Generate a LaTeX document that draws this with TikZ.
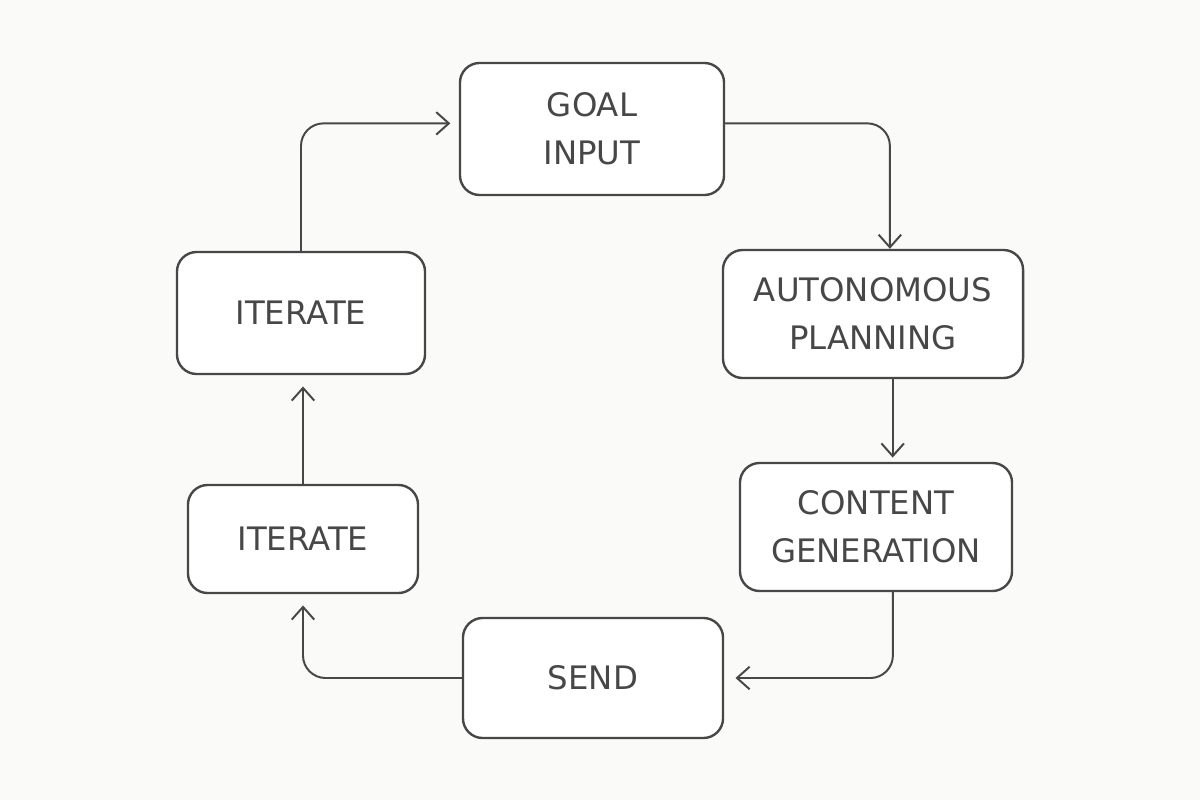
\documentclass[tikz,border=0pt]{standalone}
\usepackage{fontspec}
\setmainfont{DejaVu Sans}
\usepackage{xcolor}
\usetikzlibrary{arrows.meta,positioning,calc}

\definecolor{pencil}{HTML}{474747}
\definecolor{paper}{HTML}{FAFAF8}

\tikzset{
  stage/.style={draw=pencil, line width=1.7pt, rounded corners=14pt, fill=white,
    align=center, text=pencil, font=\fontsize{23}{34}\selectfont, inner sep=0pt},
  flow/.style={draw=pencil, line width=1.4pt, rounded corners=16pt,
    -{Straight Barb[length=9pt,width=16pt,line width=1.4pt]}}
}

\begin{document}
\begin{tikzpicture}[x=0.025cm,y=-0.025cm]
% Paper
\fill[paper] (0,0) rectangle (1200,800);
\useasboundingbox (0,0) rectangle (1200,800);

% Stages
\node[stage, minimum width=6.6cm, minimum height=3.3cm] (goal) at (592,129) {GOAL\\INPUT};
\node[stage, minimum width=7.5cm, minimum height=3.2cm] (plan) at (873,314) {AUTONOMOUS\\PLANNING};
\node[stage, minimum width=6.8cm, minimum height=3.2cm] (content) at (876,527) {CONTENT\\GENERATION};
\node[stage, minimum width=6.5cm, minimum height=3.0cm] (send) at (593,678) {SEND};
\node[stage, minimum width=5.75cm, minimum height=2.7cm] (iterlow) at (303,539) {ITERATE};
\node[stage, minimum width=6.2cm, minimum height=3.05cm] (iterup) at (301,313) {ITERATE};

% Loop
\draw[flow] ([yshift=4pt]goal.east) -| ([xshift=12pt]plan.north);
\draw[flow] ([xshift=14pt]plan.south) -- ([xshift=14pt,yshift=3pt]plan.south |- content.north);
\draw[flow] ([xshift=12pt]content.south) |- ([xshift=8pt]send.east);
\draw[flow] (send.west) -| ([yshift=-8pt]iterlow.south);
\draw[flow] (iterlow.north) -- ([yshift=-8pt]iterlow.north |- iterup.south);
\draw[flow] (iterup.north) |- ([xshift=-6pt,yshift=4pt]goal.west);
\end{tikzpicture}
\end{document}
